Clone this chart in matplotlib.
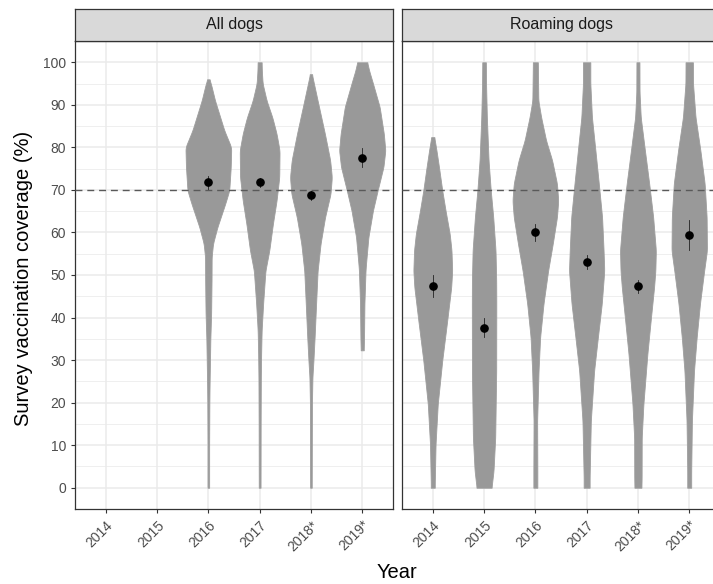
import numpy as np
import matplotlib
matplotlib.use("Agg")
import matplotlib.pyplot as plt

plt.rcParams['font.family'] = ['Liberation Sans', 'DejaVu Sans']

years = ["2014", "2015", "2016", "2017", "2018*", "2019*"]
panels = ["All dogs", "Roaming dogs"]

# violin outlines: coverage level (%) and relative half-width
all_2016_y = [0, 10, 20, 24, 28, 35, 41, 48.7, 54.2, 57.4, 61.2, 66.8, 69.9, 75.4, 80, 84, 91, 95, 96]
all_2016_w = [0.8, 0.8, 1.0, 1.2, 1.5, 2, 2.8, 3.2, 3.3, 4.7, 9, 17, 21, 22.5, 23, 16, 6.7, 2.5, 1.0]
all_2017_y = [0, 15, 26, 31.5, 37, 43.3, 51, 55.8, 62, 67.5, 73, 79.3, 83.2, 87, 91, 95, 98, 100]
all_2017_w = [0.9, 1.0, 1.2, 1.5, 2, 3.5, 5.8, 9.7, 13.3, 17, 19.7, 20, 17, 12.8, 7, 3, 2.2, 2]
all_2018_y = [0, 10, 19.7, 26, 29.9, 35.4, 43.3, 51, 57.4, 63.6, 69.1, 73, 77, 83.2, 91, 95, 97.2]
all_2018_w = [0.8, 0.9, 1, 1.5, 2.5, 3.7, 5.2, 6.7, 9.7, 14.2, 19.7, 21, 19.3, 14, 6.7, 3, 1]
all_2019_y = [32.3, 35, 43.3, 51, 52.6, 58.9, 65.2, 69.9, 75.4, 79.3, 83.2, 89.5, 95, 98, 100]
all_2019_w = [1.5, 1.8, 2.2, 3.3, 3.8, 6.2, 10.8, 15.5, 21.3, 23.2, 21.7, 17.5, 10.8, 7, 5]

roam_2014_y = [0, 1, 10.3, 19.7, 29.9, 39.3, 47.1, 51, 55.8, 59.7, 65.2, 69.9, 75.4, 79.3, 82.4]
roam_2014_w = [2, 2, 2.8, 5, 9.5, 14.5, 18.5, 19.5, 18.8, 17, 12.8, 9.5, 6.2, 3.7, 1.5]
roam_2015_y = [0, 4, 11.8, 27.5, 43.3, 48.7, 55.8, 63.6, 69.9, 77, 87.1, 95, 100]
roam_2015_w = [7.5, 9.5, 11.2, 12.2, 12.3, 12.2, 11.5, 9.2, 6.7, 4.5, 2.8, 2, 1.8]
roam_2016_y = [0, 4, 15.8, 27.5, 35.4, 43.3, 51, 57.4, 63.6, 67.5, 71.5, 77, 81.6, 87.1, 91, 100]
roam_2016_w = [2, 2, 1.8, 3.2, 4.8, 8.2, 12.8, 17.5, 21.7, 23, 21.7, 16.8, 10.8, 5.8, 3, 2.5]
roam_2017_y = [0, 2.4, 8, 15.8, 27.5, 35.4, 43.3, 51, 55.8, 63.6, 71.5, 79.3, 87.1, 95, 100]
roam_2017_w = [3, 3, 3.5, 4.2, 7.5, 11.3, 15.2, 17.7, 17, 15.5, 12.2, 8.8, 5.3, 3.7, 3.7]
roam_2018_y = [0, 2.4, 11.8, 19.7, 31.5, 39.3, 47.1, 51, 55.8, 63.6, 71.5, 79.3, 87.1, 93, 100]
roam_2018_w = [3.5, 3.7, 3.8, 5.5, 9.5, 12.8, 16.2, 17.5, 18, 15.3, 11.3, 7, 2.8, 1.6, 1.5]
roam_2019_y = [0, 4, 15.8, 27.5, 35.4, 43.3, 51, 55.8, 63.6, 71.5, 79.3, 87.1, 95, 100]
roam_2019_w = [2, 2, 2.7, 4.8, 7.5, 10.8, 15, 17.8, 17.5, 15.5, 11.2, 6.3, 3.8, 3.7]

# survey means with intervals
all_mean = [None, None, 71.8, 71.8, 68.7, 77.6]
all_lo = [None, None, 70.3, 70.8, 67.7, 75.4]
all_hi = [None, None, 73.3, 72.8, 69.7, 79.8]
roam_mean = [47.4, 37.6, 60.1, 53.0, 47.3, 59.4]
roam_lo = [44.9, 35.4, 58.1, 51.5, 45.7, 55.9]
roam_hi = [50.1, 39.9, 62.0, 54.6, 48.9, 63.0]

target = 70

all_violins = [None, None, (all_2016_y, all_2016_w), (all_2017_y, all_2017_w),
               (all_2018_y, all_2018_w), (all_2019_y, all_2019_w)]
roam_violins = [(roam_2014_y, roam_2014_w), (roam_2015_y, roam_2015_w), (roam_2016_y, roam_2016_w),
                (roam_2017_y, roam_2017_w), (roam_2018_y, roam_2018_w), (roam_2019_y, roam_2019_w)]

max_w = max(max(v[1]) for v in all_violins + roam_violins if v is not None)

W, H = 713, 584
fig = plt.figure(figsize=(W / 100, H / 100), dpi=100)

panel_left = [75, 402]
panel_w = 318
top, bottom = 41, 509
strip_h = 32

grey_fill = '#999999'


def outline(ys, ws):
    # dense outline, lightly smoothed so the corners are rounded
    yy = np.linspace(ys[0], ys[-1], 500)
    ww = np.interp(yy, ys, ws)
    k = 9
    pad = np.pad(ww, k // 2, mode='edge')
    sm = np.convolve(pad, np.ones(k) / k, mode='valid')
    return yy, sm


for p, (name, violins, means, los, his) in enumerate([
        (panels[0], all_violins, all_mean, all_lo, all_hi),
        (panels[1], roam_violins, roam_mean, roam_lo, roam_hi)]):
    ax = fig.add_axes([panel_left[p] / W, 1 - bottom / H, panel_w / W, (bottom - top) / H])
    x = np.arange(1, len(years) + 1)
    ax.set_xlim(0.4, len(years) + 0.6)
    ax.set_ylim(-5, 105)
    ax.set_yticks(range(0, 101, 10))
    ax.set_yticks(range(-5, 106, 10), minor=True)
    ax.set_xticks(x)
    ax.set_xticklabels(years, rotation=45, ha='right', rotation_mode='anchor')
    ax.grid(True, which='major', color='#EBEBEB', lw=1.1)
    ax.grid(True, which='minor', axis='y', color='#EBEBEB', lw=0.55)
    ax.set_axisbelow(True)
    ax.tick_params(which='minor', length=0)
    ax.tick_params(which='major', length=3, color='#333333', labelsize=10, labelcolor='#4D4D4D', width=0.8)
    for s in ax.spines.values():
        s.set_color('#333333')
        s.set_linewidth(0.9)
    if p == 1:
        ax.tick_params(axis='y', left=False, labelleft=False)

    for i, v in enumerate(violins):
        if v is None:
            continue
        yy, ww = outline(v[0], v[1])
        ww = ww / max_w * 0.45
        ax.fill_betweenx(yy, x[i] - ww, x[i] + ww, color=grey_fill, lw=0.6, edgecolor='#9E9E9E', zorder=2)

    ax.axhline(target, color='#595959', lw=1.0, ls=(0, (5, 3.5)), zorder=3)

    for i in range(len(years)):
        if means[i] is None:
            continue
        ax.plot([x[i], x[i]], [los[i], his[i]], color='#222222', lw=0.6, zorder=4)
        ax.plot(x[i], means[i], 'o', color='black', ms=5.2, zorder=5)

    sax = fig.add_axes([panel_left[p] / W, 1 - top / H, panel_w / W, strip_h / H])
    sax.set_facecolor('#D9D9D9')
    sax.set_xticks([])
    sax.set_yticks([])
    for s in sax.spines.values():
        s.set_color('#333333')
        s.set_linewidth(0.9)
    sax.text(0.5, 0.5, name, ha='center', va='center', fontsize=11.5, color='#1A1A1A',
             transform=sax.transAxes)

fig.text(24 / W, 1 - 278.5 / H, "Survey vaccination coverage (%)", rotation=90,
         ha='center', va='center', fontsize=14.5)
fig.text(397 / W, 1 - 573 / H, "Year", ha='center', va='center', fontsize=14.5)

fig.savefig("out.png", dpi=100)
